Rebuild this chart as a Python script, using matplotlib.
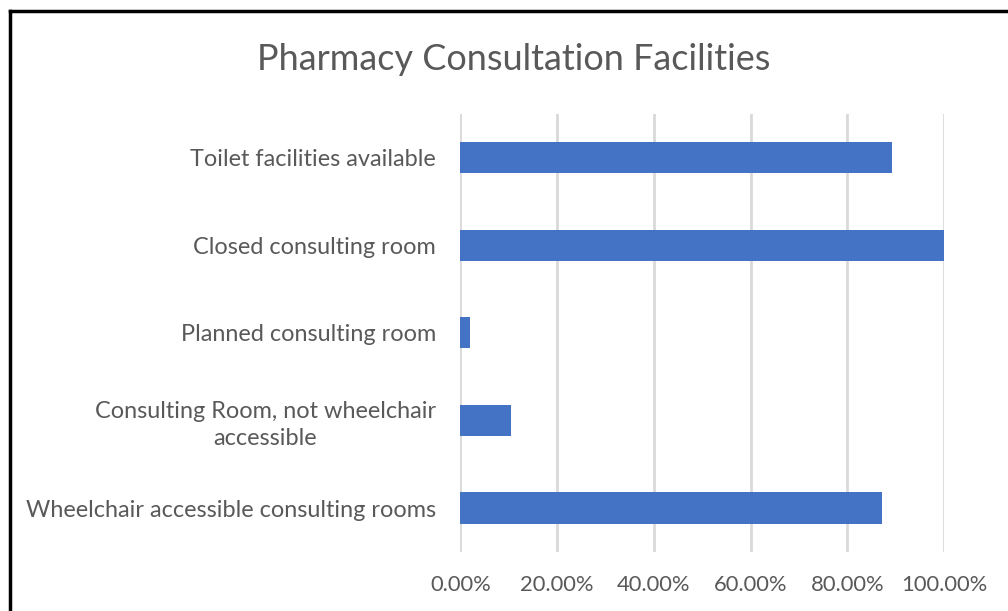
import numpy as np
import matplotlib.pyplot as plt
from matplotlib.lines import Line2D
from matplotlib.ticker import FuncFormatter

# facility categories, bottom to top as drawn
categories = [
    "Wheelchair accessible consulting rooms",
    "Consulting Room, not wheelchair\naccessible",
    "Planned consulting room",
    "Closed consulting room",
    "Toilet facilities available",
]
# share of pharmacies (fraction)
shares = [0.872, 0.104, 0.020, 1.000, 0.893]
x_ticks = [0.0, 0.2, 0.4, 0.6, 0.8, 1.0]

plt.rcParams['font.family'] = ['Lato', 'DejaVu Sans']
text_col = '#595959'

fig = plt.figure(figsize=(10.08, 6.11), dpi=100)
ax = fig.add_axes([0.4567, 0.0969, 0.4799, 0.7165])

y = np.arange(len(categories))
ax.barh(y, shares, height=0.355, color='#4472C4', zorder=3)

ax.set_xlim(0, 1.0)
ax.set_ylim(-0.5, len(categories) - 0.5)
ax.set_xticks(x_ticks)
ax.xaxis.set_major_formatter(FuncFormatter(lambda v, p: f"{v * 100:.2f}%"))
ax.set_yticks(y)
ax.set_yticklabels(categories, multialignment='center', linespacing=1.35)
ax.tick_params(axis='x', length=0, labelsize=15.8, colors=text_col, pad=17)
ax.tick_params(axis='y', length=0, labelsize=16.9, colors=text_col, pad=17.5)
ax.grid(axis='x', color='#D9D9D9', linewidth=2, zorder=0)
for s in ax.spines.values():
    s.set_visible(False)

fig.text(0.51, 0.903, "Pharmacy Consultation Facilities", ha='center', va='center',
         fontsize=25.9, color=text_col)

# frame lines along top and left edge
fig.add_artist(Line2D([9.5 / 1008, 1.0], [1 - 10.5 / 611] * 2, color='black', linewidth=2.5,
                      transform=fig.transFigure))
fig.add_artist(Line2D([9.5 / 1008] * 2, [0, 1 - 10.5 / 611], color='black', linewidth=2.5,
                      transform=fig.transFigure))

fig.savefig("out.png", dpi=100)
